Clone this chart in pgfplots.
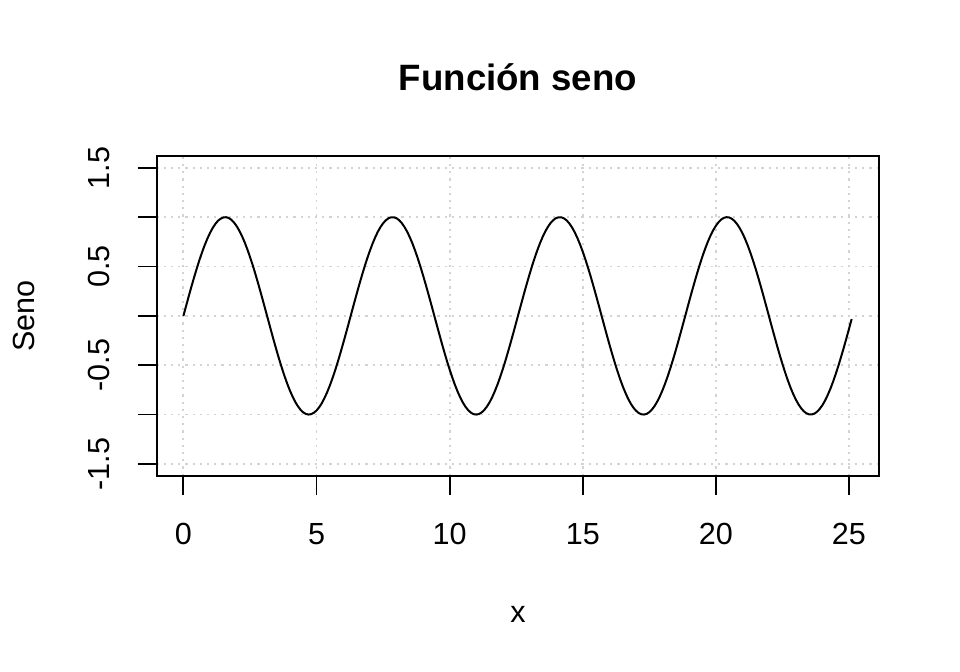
\documentclass[border=0pt]{standalone}
\usepackage{pgfplots}
\pgfplotsset{compat=1.18}
\usepackage{fontspec}
\setmainfont{Liberation Sans}
\definecolor{gridgray}{HTML}{D3D3D3}
\begin{document}
\begin{tikzpicture}
\path[use as bounding box] (0,0) rectangle (720bp,504bp);
\begin{axis}[
  at={(117.5bp,147.2bp)}, anchor=south west,
  scale only axis, width=541.95bp, height=239.8bp,
  xmin=-1.005, xmax=26.138, ymin=-1.62, ymax=1.62,
  xtick={0,5,10,15,20,25},
  xticklabels={0,5,10,15,20,25},
  ytick={-1.5,-1,-0.5,0,0.5,1,1.5},
  yticklabels={-1.5,,-0.5,,0.5,,1.5},
  tick align=outside, xtick pos=bottom, ytick pos=left,
  major tick length=14.25bp,
  every tick/.style={black, line width=1.4bp},
  axis line style={black, line width=1.4bp},
  grid=major,
  major grid style={gridgray, line width=1.4bp, dash pattern=on 1.6bp off 3.8bp},
  tick label style={font=\fontsize{23}{27}\selectfont, inner sep=0pt},
  xticklabel style={anchor=north, yshift=-21.5bp},
  yticklabel style={xshift=-21bp, rotate=90, anchor=south},
  title={\bfseries Función seno},
  title style={at={(rel axis cs:0.5,1.180)}, anchor=base, font=\fontsize{27.6}{32}\selectfont\bfseries, inner sep=0pt},
  xlabel={x},
  xlabel style={at={(rel axis cs:0.5,-0.4586)}, anchor=base, font=\fontsize{23}{27}\selectfont, inner sep=0pt},
  ylabel={Seno},
  ylabel style={at={(rel axis cs:-0.1690,0.5)}, anchor=base, rotate=0, font=\fontsize{23}{27}\selectfont, inner sep=0pt},
]
\addplot[black, line width=1.5bp, mark=none] coordinates {
(0,0.000)(0.1,0.100)(0.2,0.199)(0.3,0.296)(0.4,0.389)(0.5,0.479)(0.6,0.565)(0.7,0.644)(0.8,0.717)(0.9,0.783)
(1.0,0.841)(1.1,0.891)(1.2,0.932)(1.3,0.964)(1.4,0.985)(1.5,0.997)(1.6,1.000)(1.7,0.992)(1.8,0.974)(1.9,0.946)
(2.0,0.909)(2.1,0.863)(2.2,0.808)(2.3,0.746)(2.4,0.675)(2.5,0.598)(2.6,0.516)(2.7,0.427)(2.8,0.335)(2.9,0.239)
(3.0,0.141)(3.1,0.042)(3.2,-0.058)(3.3,-0.158)(3.4,-0.256)(3.5,-0.351)(3.6,-0.443)(3.7,-0.530)(3.8,-0.612)(3.9,-0.688)
(4.0,-0.757)(4.1,-0.818)(4.2,-0.872)(4.3,-0.916)(4.4,-0.952)(4.5,-0.978)(4.6,-0.994)(4.7,-1.000)(4.8,-0.996)(4.9,-0.982)
(5.0,-0.959)(5.1,-0.926)(5.2,-0.884)(5.3,-0.832)(5.4,-0.773)(5.5,-0.706)(5.6,-0.631)(5.7,-0.551)(5.8,-0.465)(5.9,-0.374)
(6.0,-0.279)(6.1,-0.182)(6.2,-0.083)
(6.3,0.017)(6.4,0.117)(6.5,0.215)(6.6,0.312)(6.7,0.405)(6.8,0.494)(6.9,0.579)(7.0,0.657)(7.1,0.729)(7.2,0.794)
(7.3,0.851)(7.4,0.899)(7.5,0.938)(7.6,0.968)(7.7,0.988)(7.8,0.999)(7.9,0.999)(8.0,0.990)(8.1,0.970)(8.2,0.941)
(8.3,0.902)(8.4,0.855)(8.5,0.799)(8.6,0.735)(8.7,0.663)(8.8,0.585)(8.9,0.501)(9.0,0.412)(9.1,0.319)(9.2,0.223)
(9.3,0.125)(9.4,0.025)(9.5,-0.075)(9.6,-0.174)(9.7,-0.272)(9.8,-0.367)(9.9,-0.458)(10.0,-0.544)(10.1,-0.625)(10.2,-0.700)
(10.3,-0.768)(10.4,-0.828)(10.5,-0.880)(10.6,-0.923)(10.7,-0.957)(10.8,-0.981)(10.9,-0.996)(11.0,-1.000)(11.1,-0.995)(11.2,-0.979)
(11.3,-0.954)(11.4,-0.919)(11.5,-0.876)(11.6,-0.823)(11.7,-0.762)(11.8,-0.694)(11.9,-0.618)(12.0,-0.537)(12.1,-0.450)(12.2,-0.358)
(12.3,-0.263)(12.4,-0.166)(12.5,-0.066)
(12.6,0.034)(12.7,0.133)(12.8,0.232)(12.9,0.327)(13.0,0.420)(13.1,0.509)(13.2,0.592)(13.3,0.670)(13.4,0.740)(13.5,0.804)
(13.6,0.859)(13.7,0.906)(13.8,0.944)(13.9,0.972)(14.0,0.991)(14.1,0.999)(14.2,0.998)(14.3,0.987)(14.4,0.966)(14.5,0.935)
(14.6,0.895)(14.7,0.846)(14.8,0.788)(14.9,0.723)(15.0,0.650)(15.1,0.571)(15.2,0.486)(15.3,0.397)(15.4,0.303)(15.5,0.206)
(15.6,0.108)(15.7,0.008)(15.8,-0.092)(15.9,-0.191)(16.0,-0.288)(16.1,-0.382)(16.2,-0.472)(16.3,-0.558)(16.4,-0.638)(16.5,-0.712)
(16.6,-0.778)(16.7,-0.837)(16.8,-0.888)(16.9,-0.929)(17.0,-0.961)(17.1,-0.984)(17.2,-0.997)(17.3,-1.000)(17.4,-0.993)(17.5,-0.976)
(17.6,-0.949)(17.7,-0.913)(17.8,-0.867)(17.9,-0.813)(18.0,-0.751)(18.1,-0.681)(18.2,-0.605)(18.3,-0.522)(18.4,-0.435)(18.5,-0.343)
(18.6,-0.247)(18.7,-0.149)(18.8,-0.050)
(18.9,0.050)(19.0,0.150)(19.1,0.248)(19.2,0.343)(19.3,0.435)(19.4,0.523)(19.5,0.606)(19.6,0.682)(19.7,0.752)(19.8,0.814)
(19.9,0.868)(20.0,0.913)(20.1,0.949)(20.2,0.976)(20.3,0.993)(20.4,1.000)(20.5,0.997)(20.6,0.984)(20.7,0.961)(20.8,0.929)
(20.9,0.887)(21.0,0.837)(21.1,0.778)(21.2,0.711)(21.3,0.637)(21.4,0.557)(21.5,0.472)(21.6,0.381)(21.7,0.287)(21.8,0.190)
(21.9,0.091)(22.0,-0.009)(22.1,-0.109)(22.2,-0.207)(22.3,-0.304)(22.4,-0.398)(22.5,-0.487)(22.6,-0.572)(22.7,-0.651)(22.8,-0.724)
(22.9,-0.789)(23.0,-0.846)(23.1,-0.895)(23.2,-0.935)(23.3,-0.966)(23.4,-0.987)(23.5,-0.998)(23.6,-0.999)(23.7,-0.991)(23.8,-0.972)
(23.9,-0.943)(24.0,-0.906)(24.1,-0.859)(24.2,-0.803)(24.3,-0.740)(24.4,-0.669)(24.5,-0.591)(24.6,-0.508)(24.7,-0.419)(24.8,-0.327)
(24.9,-0.231)(25.0,-0.132)(25.1,-0.033)
};
\end{axis}
\end{tikzpicture}
\end{document}
